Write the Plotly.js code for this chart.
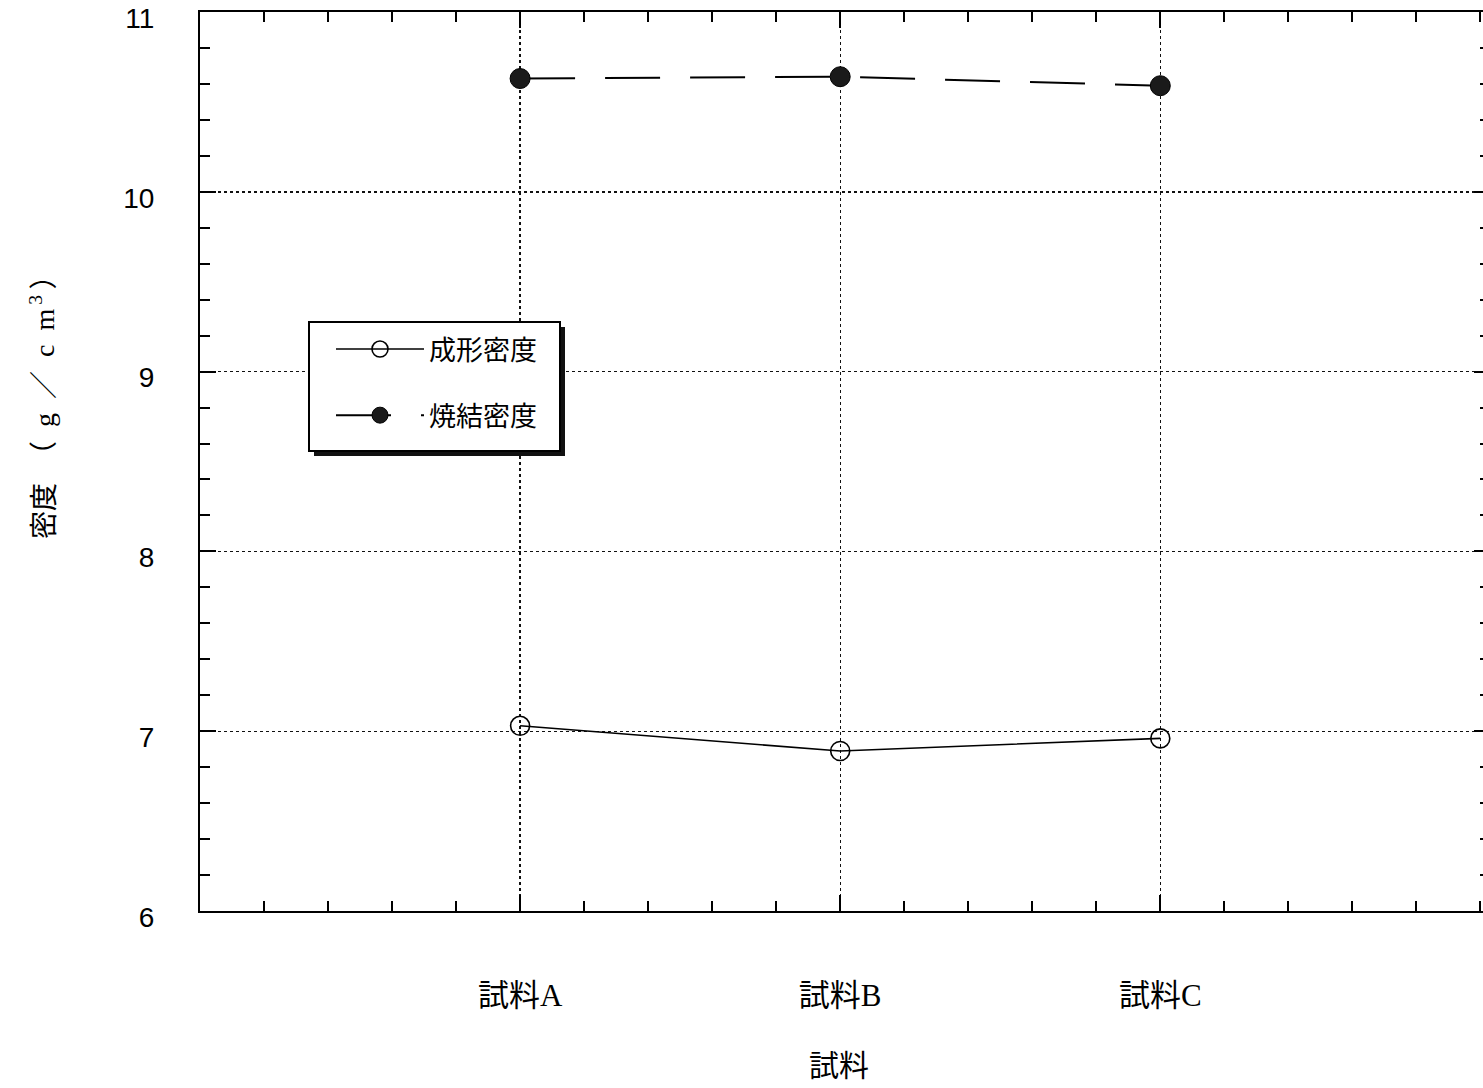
<!DOCTYPE html>
<html>
<head>
<meta charset="utf-8">
<script src="https://cdn.plot.ly/plotly-3.0.1.min.js"></script>
<style>
html,body{margin:0;padding:0;overflow:hidden;background:#fff;}
#chart{width:1500px;height:1088px;}
</style>
</head>
<body>
<div id="chart"></div>
<script>
const categories = ["試料A", "試料B", "試料C"];
const categoryPos = [0, 1, 2];
const formedDensity = [7.03, 6.89, 6.96];
const sinteredDensity = [10.63, 10.64, 10.59];
const seriesNames = ["成形密度", "焼結密度"];
const yTicks = [6, 7, 8, 9, 10, 11];
const xTitle = "試料";
const yTitle = "密度\u2002（\u2002g\u2002／\u2002c\u2002m<sup>\u20093</sup>\u2009）";

const W = 1500, H = 1088;
const M = {l: 200, r: 10, t: 12, b: 177};
const PW = W - M.l - M.r, PH = H - M.t - M.b;
const px2x = p => (p - M.l) / PW;
const px2y = p => (H - M.b - p) / PH;

const sansFont = '"Liberation Sans", "Noto Sans CJK JP", sans-serif';
const serifFont = '"Liberation Serif", "Noto Sans CJK JP", serif';
const cjkFont = '"Noto Sans CJK JP", sans-serif';

const traces = [
  {
    x: categoryPos, y: formedDensity, name: seriesNames[0],
    type: 'scatter', mode: 'lines+markers', legendgroup: 'a',
    line: {color: '#000', width: 1.6},
    marker: {symbol: 'circle', size: 19, color: 'rgba(255,255,255,0)', line: {color: '#000', width: 1.6}}
  },
  {
    x: categoryPos, y: sinteredDensity, name: seriesNames[1],
    type: 'scatter', mode: 'lines+markers', legendgroup: 'b',
    line: {color: '#000', width: 2, dash: '55px,30px'},
    marker: {symbol: 'circle', size: 20, color: '#1a1a1a', line: {color: '#000', width: 1}}
  }
];

const layout = {
  width: W, height: H,
  margin: M,
  paper_bgcolor: '#fff', plot_bgcolor: '#fff',
  showlegend: true,
  legend: {
    x: px2x(331), y: px2y(325), xanchor: 'left', yanchor: 'top',
    bgcolor: 'rgba(0,0,0,0)', borderwidth: 0,
    font: {family: cjkFont, size: 27, color: '#000'},
    itemwidth: 88, tracegroupgap: 28
  },
  xaxis: {
    range: [-1, 3.03],
    tickmode: 'array', tickvals: categoryPos, ticktext: categories,
    ticks: 'inside', ticklen: 16, tickwidth: 2, tickcolor: '#000',
    minor: {dtick: 0.2, tick0: 0, ticks: 'inside', ticklen: 10, tickwidth: 2, tickcolor: '#000', showgrid: false},
    showline: true, linecolor: '#000', linewidth: 2, mirror: 'ticks',
    showgrid: true, gridcolor: '#111', gridwidth: 1.4, griddash: 'dot',
    zeroline: false,
    tickfont: {family: serifFont, size: 31, color: '#000'},
    ticklabelstandoff: 56
  },
  yaxis: {
    range: [6, 11],
    tickmode: 'array', tickvals: yTicks,
    ticks: 'inside', ticklen: 16, tickwidth: 2, tickcolor: '#000',
    minor: {dtick: 0.2, tick0: 6, ticks: 'inside', ticklen: 10, tickwidth: 2, tickcolor: '#000', showgrid: false},
    showline: true, linecolor: '#000', linewidth: 2, mirror: 'ticks',
    showgrid: true, gridcolor: '#111', gridwidth: 1.4, griddash: 'dot',
    zeroline: false,
    tickfont: {family: sansFont, size: 28, color: '#000'},
    ticklabelstandoff: 38,
    ticklabelshift: 6,
    ticklabeloverflow: 'allow'
  },
  shapes: [
    {type: 'rect', xref: 'paper', yref: 'paper', layer: 'above',
     x0: px2x(314), x1: px2x(565), y0: px2y(327), y1: px2y(456),
     fillcolor: '#111', line: {width: 0}},
    {type: 'rect', xref: 'paper', yref: 'paper', layer: 'above',
     x0: px2x(309), x1: px2x(560), y0: px2y(322), y1: px2y(451),
     fillcolor: '#fff', line: {width: 2, color: '#000'}}
  ],
  annotations: [
    {text: yTitle, xref: 'paper', yref: 'paper',
     x: px2x(42), y: px2y(400), xanchor: 'center', yanchor: 'middle',
     textangle: -90, showarrow: false,
     font: {family: serifFont, size: 28, color: '#000'}},
    {text: xTitle, xref: 'paper', yref: 'paper',
     x: px2x(839), y: px2y(1063), xanchor: 'center', yanchor: 'middle',
     showarrow: false,
     font: {family: cjkFont, size: 30, color: '#000'}}
  ]
};

Plotly.newPlot('chart', traces, layout, {displayModeBar: false, staticPlot: true});
</script>
</body>
</html>
